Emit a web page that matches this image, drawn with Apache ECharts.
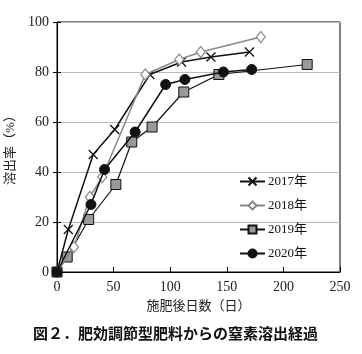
<!DOCTYPE html>
<html>
<head>
<meta charset="utf-8">
<script src="https://cdn.jsdelivr.net/npm/echarts@6/dist/echarts.min.js"></script>
<style>
html, body { margin: 0; padding: 0; background: #fff; }
#main { width: 362px; height: 354px; }
</style>
</head>
<body>
<div id="main"></div>
<script>
// 溶出率データ（日数, %）
var d2017 = [[0, 0], [10, 17], [32, 47], [51, 57], [82, 79], [110, 84], [136, 86], [170, 88]];
var d2018 = [[0, 0], [15, 10], [29, 30], [40, 38], [78, 79], [108, 85], [127, 88], [180, 94]];
var d2019 = [[0, 0], [9, 6], [28, 21], [52, 35], [66, 52], [84, 58], [112, 72], [143, 79], [221, 83]];
var d2020 = [[0, 0], [30, 27], [42, 41], [69, 56], [96, 75], [113, 77], [147, 80], [172, 81]];
var years = ['2017年', '2018年', '2019年', '2020年'];

var serif = '"Liberation Serif", "DejaVu Serif", "Noto Sans CJK JP", serif';
var cross = 'path://M0,0L10,10M10,0L0,10';

var myChart = echarts.init(document.getElementById('main'));

var option = {
    backgroundColor: '#fff',
    animation: false,
    grid: {
        left: 57, right: 22, top: 22, bottom: 82,
        outerBoundsMode: 'none',
        show: true, borderColor: '#000', borderWidth: 1
    },
    graphic: [{
        type: 'text',
        left: 33, top: 326,
        style: {
            text: '図２．肥効調節型肥料からの窒素溶出経過',
            font: 'bold 15px "Noto Sans CJK JP", sans-serif',
            fill: '#111'
        }
    }],
    legend: {
        orient: 'vertical',
        left: 234, top: 170,
        itemWidth: 25, itemHeight: 10,
        itemGap: 11,
        data: years,
        textStyle: { fontFamily: serif, fontSize: 13, color: '#111', padding: [0, 0, 0, -2] }
    },
    xAxis: {
        type: 'value',
        min: 0, max: 250, interval: 50,
        name: '施肥後日数（日）',
        nameLocation: 'middle',
        nameGap: 28,
        nameTextStyle: { fontFamily: serif, fontSize: 13, color: '#222' },
        axisLine: { lineStyle: { color: '#000', width: 1 } },
        axisTick: { inside: true, length: 5, lineStyle: { color: '#000' } },
        axisLabel: { fontFamily: serif, fontSize: 14, color: '#222', margin: 8 },
        splitLine: { show: false }
    },
    yAxis: [{
        type: 'value',
        min: 0, max: 100, interval: 20,
        name: '溶出率（%）',
        nameLocation: 'middle',
        nameGap: 40,
        nameTextStyle: { fontFamily: serif, fontSize: 13, color: '#222' },
        axisLine: { show: true, lineStyle: { color: '#000', width: 1 } },
        axisTick: { show: true, length: 4, lineStyle: { color: '#000' } },
        axisLabel: { fontFamily: serif, fontSize: 14, color: '#222', margin: 8 },
        splitLine: { show: true, lineStyle: { color: '#bbb', width: 1 } }
    }, {
        type: 'value',
        position: 'left',
        min: 0, max: 100, interval: 20,
        axisLine: { show: false },
        axisTick: { show: true, inside: true, length: 4, lineStyle: { color: '#000' } },
        axisLabel: { show: false },
        splitLine: { show: false }
    }],
    series: [
        {
            name: years[0], type: 'line', data: d2017,
            symbol: cross, symbolSize: 9,
            lineStyle: { color: '#111', width: 1.5 },
            itemStyle: { color: '#111', borderColor: '#111', borderWidth: 1.3 },
            z: 3
        },
        {
            name: years[1], type: 'line', data: d2018,
            symbol: 'diamond', symbolSize: [9, 11],
            lineStyle: { color: '#888', width: 1.5 },
            itemStyle: { color: '#fff', borderColor: '#888', borderWidth: 1.2 },
            z: 4
        },
        {
            name: years[2], type: 'line', data: d2019,
            symbol: 'rect', symbolSize: 10,
            lineStyle: { color: '#111', width: 1.2 },
            itemStyle: { color: '#999', borderColor: '#111', borderWidth: 1 },
            z: 2
        },
        {
            name: years[3], type: 'line', data: d2020,
            symbol: 'circle', symbolSize: 10,
            lineStyle: { color: '#111', width: 1.5 },
            itemStyle: { color: '#111', borderColor: '#111', borderWidth: 1 },
            z: 5
        }
    ]
};

myChart.setOption(option);
</script>
</body>
</html>
